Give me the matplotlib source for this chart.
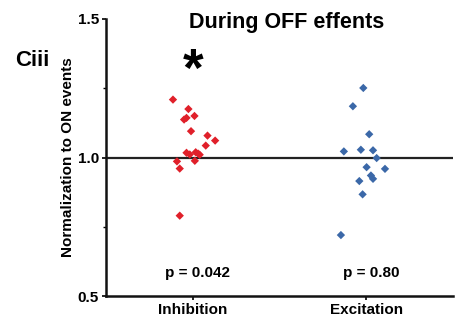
import matplotlib
matplotlib.use("Agg")
import matplotlib.pyplot as plt
import numpy as np
from matplotlib.ticker import MultipleLocator

plt.rcParams['font.family'] = ['Liberation Sans', 'DejaVu Sans']
plt.rcParams['font.weight'] = 'bold'

categories = ["Inhibition", "Excitation"]

inhibition_vals = [1.209, 1.175, 1.137, 1.143, 1.150, 1.095, 1.079, 1.061, 1.043,
                   1.017, 1.011, 1.019, 1.014, 1.010, 0.986, 0.960, 0.988, 0.790]
inhibition_jitter = [-0.114, -0.025, -0.050, -0.036, 0.010, -0.010, 0.085, 0.129, 0.075,
                     -0.036, -0.017, 0.017, 0.031, 0.040, -0.091, -0.075, 0.012, -0.075]

excitation_vals = [1.251, 1.185, 1.084, 1.022, 1.028, 1.026, 0.998, 0.965, 0.959,
                   0.935, 0.923, 0.915, 0.867, 0.720]
excitation_jitter = [-0.017, -0.077, 0.017, -0.129, -0.031, 0.039, 0.060, 0.002, 0.108,
                     0.027, 0.039, -0.040, -0.021, -0.146]

p_labels = ["p = 0.042", "p = 0.80"]

red = "#e0202a"
blue = "#3b68a8"

fig = plt.figure(figsize=(4.58, 3.21), dpi=100)
ax = fig.add_axes([106/458, 1 - 296/321, (453-106)/458, (296-19)/321])

ax.axhline(1.0, color="#222222", lw=1.6, zorder=1)

ax.scatter(np.zeros(len(inhibition_vals)) + np.array(inhibition_jitter), inhibition_vals,
           marker="D", s=18, color=red, edgecolors="none", zorder=3)
ax.scatter(np.ones(len(excitation_vals)) + np.array(excitation_jitter), excitation_vals,
           marker="D", s=18, color=blue, edgecolors="none", zorder=3)

ax.set_xlim(-0.5, 1.5)
ax.set_ylim(0.5, 1.5)
ax.set_xticks([0, 1])
ax.set_xticklabels(categories, fontsize=11, fontweight="bold")
ax.set_yticks([0.5, 1.0, 1.5])
ax.set_yticklabels(["0.5", "1.0", "1.5"], fontsize=11, fontweight="bold")
ax.yaxis.set_minor_locator(MultipleLocator(0.25))
ax.tick_params(axis="both", which="major", length=3, width=1.2, pad=2)
ax.tick_params(axis="y", which="minor", length=2, width=1.0)

for side in ("top", "right"):
    ax.spines[side].set_visible(False)
for side in ("left", "bottom"):
    ax.spines[side].set_linewidth(1.8)
    ax.spines[side].set_color("#111111")

ax.set_ylabel("Normalization to ON events", fontsize=11, fontweight="bold", labelpad=2)

for i, lbl in enumerate(p_labels):
    ax.text(i + 0.03, 0.583, lbl, ha="center", va="center", fontsize=11, fontweight="bold")

ax.text(0.0, 1.31, "*", ha="center", va="center", fontsize=38, fontweight="bold")

fig.text(287/458, 1 - 28/321, "During OFF effents", ha="center", va="baseline",
         fontsize=15.5, fontweight="bold")
fig.text(15/458, 1 - 60/321, "Ciii", ha="left", va="center", fontsize=16, fontweight="bold")

fig.savefig("out.png", dpi=100)
